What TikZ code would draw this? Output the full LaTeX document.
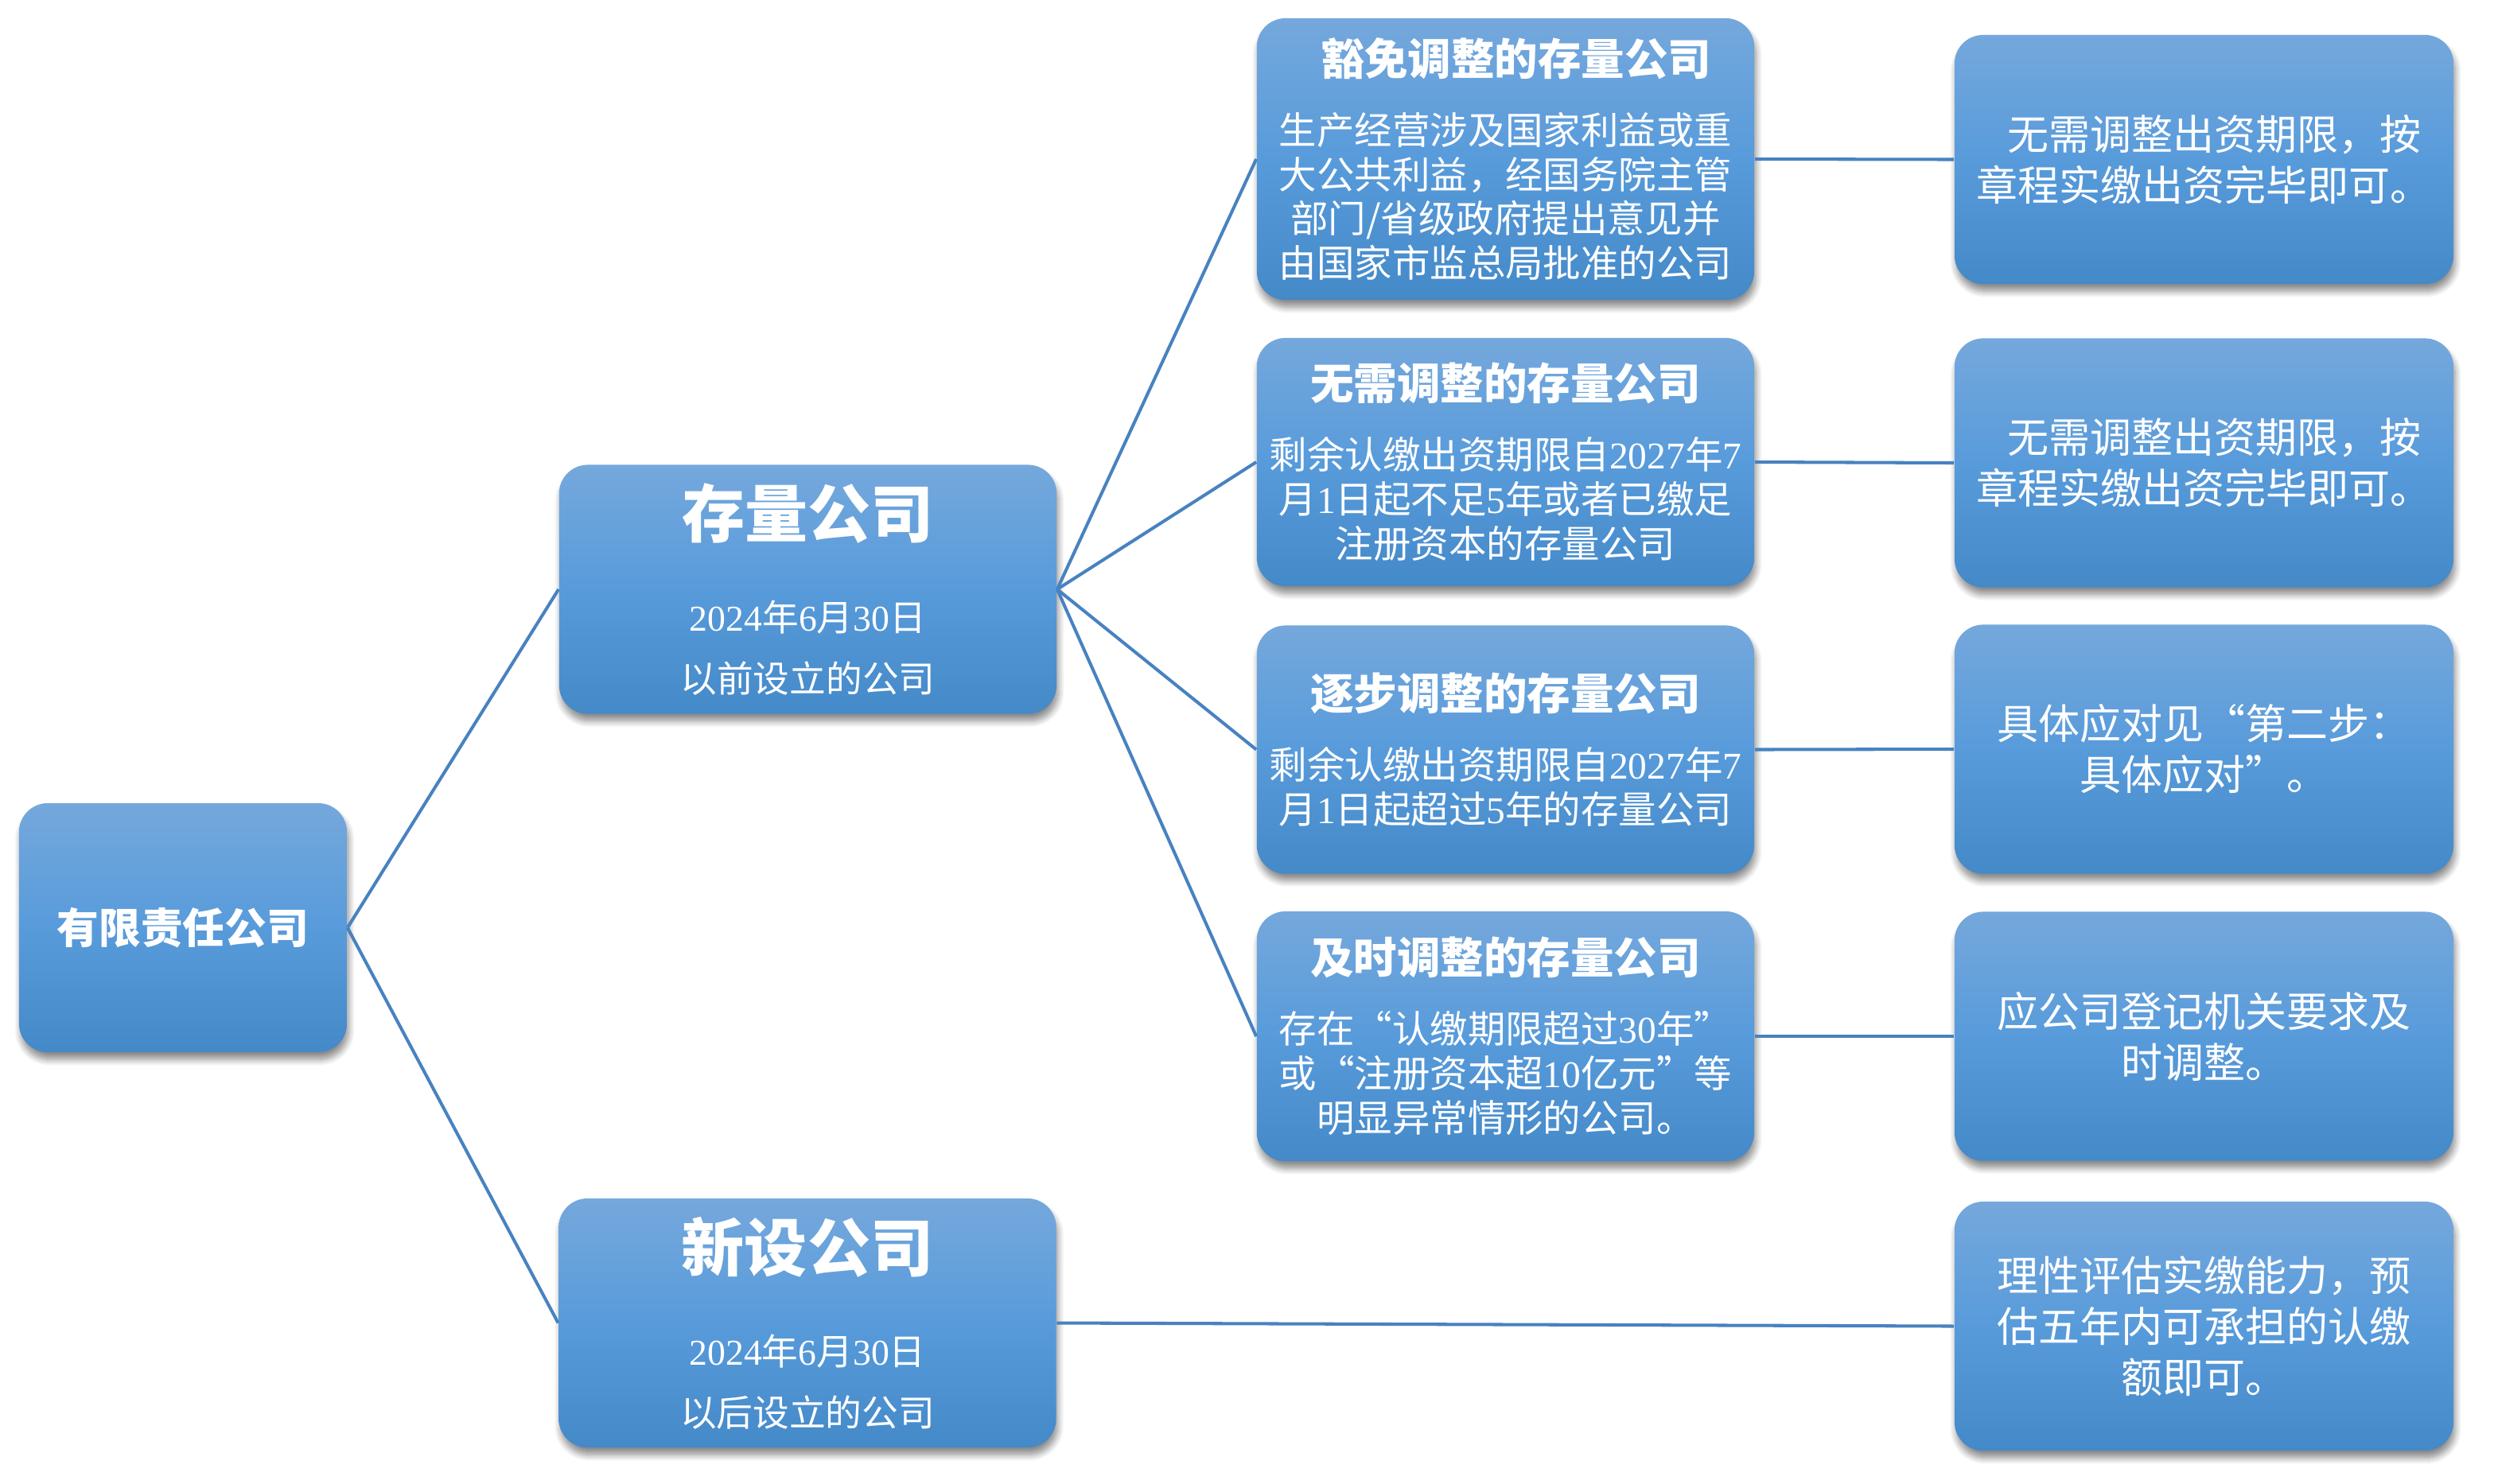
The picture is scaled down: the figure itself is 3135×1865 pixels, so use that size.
\documentclass[tikz,border=0pt]{standalone}
\usepackage{fontspec}
\setmainfont{Liberation Serif}
\newfontfamily\cjk{Noto Sans CJK SC}
\usetikzlibrary{shadows.blur}
\newcommand\lat[1]{{\rmfamily#1}}
\definecolor{boxtop}{RGB}{117,168,220}
\definecolor{boxmid}{RGB}{88,155,219}
\definecolor{boxbot}{RGB}{68,137,200}
\definecolor{linec}{RGB}{72,130,192}
\tikzset{
  box/.style={rectangle, rounded corners=0.36cm, top color=boxtop, bottom color=boxbot, middle color=boxmid,
    text=white, align=center, inner sep=0pt,
    blur shadow={shadow xshift=0.6pt, shadow yshift=-2.6pt, shadow blur steps=8, shadow blur radius=2.2pt, shadow opacity=45}},
  rootbox/.style={box, minimum width=4.12cm, minimum height=3.13cm, font=\cjk\fontsize{15pt}{18pt}\selectfont\bfseries},
  bigbox/.style={box, minimum width=6.25cm, minimum height=3.13cm, font=\cjk\fontsize{13pt}{21.9pt}\selectfont},
  midbox/.style={box, minimum width=6.25cm, minimum height=3.12cm, font=\cjk\fontsize{13.5pt}{15.9pt}\selectfont},
  rightbox/.style={box, minimum width=6.27cm, minimum height=3.13cm, font=\cjk\fontsize{14.8pt}{18.2pt}\selectfont},
  conn/.style={draw=linec, line width=1.15pt},
}
\newcommand\bigttl{\fontsize{22.5pt}{24pt}\selectfont\bfseries}
\newcommand\midttl{\fontsize{15.5pt}{17pt}\selectfont\bfseries}
\begin{document}
\begin{tikzpicture}[x=0.01cm,y=-0.01cm]
\useasboundingbox (0,0) rectangle (3135,1865);
% level 0
\node[rootbox] (root) at (230,1166.5) {有限责任公司};
% level 1
\node[bigbox] (cl) at (1015.5,741) {{\bigttl 存量公司}\\[11.7pt]\lat{2024}年\lat{6}月\lat{30}日\\以前设立的公司};
\node[bigbox] (xs) at (1015,1663.5) {{\bigttl 新设公司}\\[11.7pt]\lat{2024}年\lat{6}月\lat{30}日\\以后设立的公司};
% level 2
\node[midbox, minimum height=3.54cm] (m1) at (1892.5,200) {{\midttl\hspace*{0.5em}豁免调整的存量公司}\\[8.8pt]生产经营涉及国家利益或重\\大公共利益，经国务院主管\\部门/省级政府提出意见并\\由国家市监总局批准的公司};
\node[midbox] (m2) at (1892.5,581) {{\midttl 无需调整的存量公司}\\[8.8pt]剩余认缴出资期限自\lat{2027}年\lat{7}\\月\lat{1}日起不足\lat{5}年或者已缴足\\注册资本的存量公司};
\node[midbox] (m3) at (1892.5,942.5) {{\midttl 逐步调整的存量公司}\\[8.8pt]剩余认缴出资期限自\lat{2027}年\lat{7}\\月\lat{1}日起超过\lat{5}年的存量公司};
\node[midbox, minimum height=3.14cm] (m4) at (1892.5,1303) {{\midttl 及时调整的存量公司}\\[8.8pt]存在“认缴期限超过\lat{30}年”\\或“注册资本超\lat{10}亿元”等\\明显异常情形的公司。};
% level 3
\node[rightbox] (r1) at (2770.5,200.5) {\hspace*{0.5em}无需调整出资期限，按\\章程实缴出资完毕即可。};
\node[rightbox] (r2) at (2770.5,582) {\hspace*{0.5em}无需调整出资期限，按\\章程实缴出资完毕即可。};
\node[rightbox] (r3) at (2770.5,942) {具体应对见“第二步：\\具体应对”。};
\node[rightbox] (r4) at (2770.5,1303) {应公司登记机关要求及\\时调整。};
\node[rightbox] (r5) at (2770.5,1667.5) {理性评估实缴能力，预\\估五年内可承担的认缴\\额即可。};
% connectors
\draw[conn] (root.east) -- (cl.west);
\draw[conn] (root.east) -- (xs.west);
\draw[conn] (cl.east) -- (m1.west);
\draw[conn] (cl.east) -- (m2.west);
\draw[conn] (cl.east) -- (m3.west);
\draw[conn] (cl.east) -- (m4.west);
\draw[conn] (m1.east) -- (r1.west);
\draw[conn] (m2.east) -- (r2.west);
\draw[conn] (m3.east) -- (r3.west);
\draw[conn] (m4.east) -- (r4.west);
\draw[conn] (xs.east) -- (r5.west);
\end{tikzpicture}
\end{document}
